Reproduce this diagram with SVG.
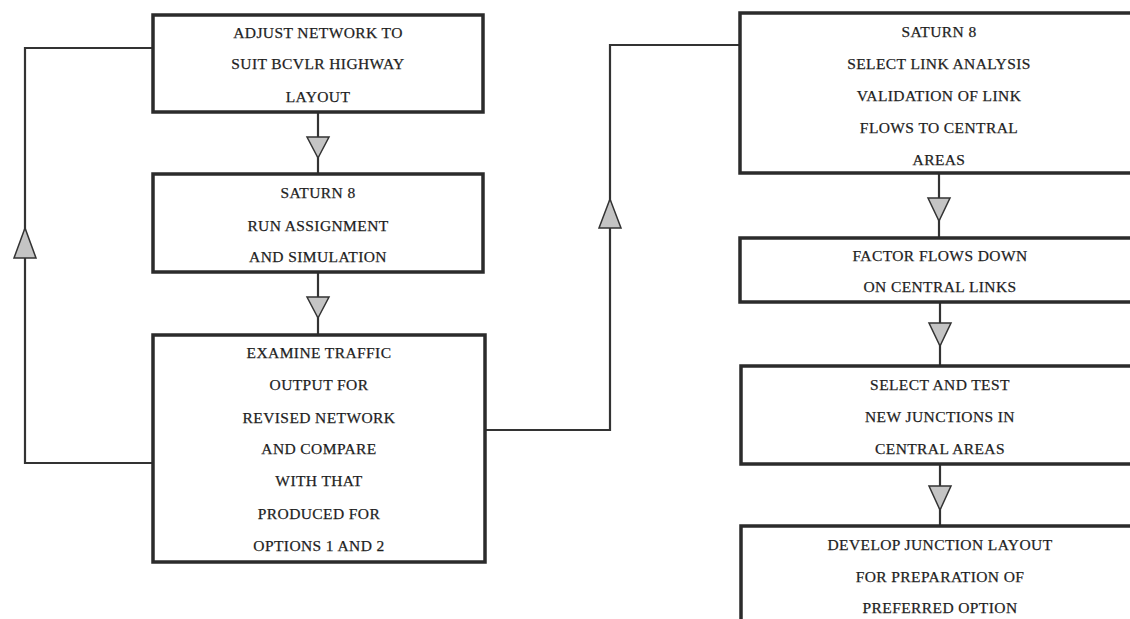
<svg xmlns="http://www.w3.org/2000/svg" width="1130" height="619" viewBox="0 0 1130 619">
<style>
.box{fill:#ffffff;stroke:#2b2b2b;stroke-width:3.5}
.t{font-family:"Liberation Serif","Times New Roman",serif;font-size:15.5px;letter-spacing:0.4px;fill:#1e1e1e;stroke:#1e1e1e;stroke-width:0.25;text-anchor:middle}
.c{fill:none;stroke:#333;stroke-width:2.2}
.ah{fill:#c4c4c4;stroke:#333;stroke-width:1.5;stroke-linejoin:miter}
</style>
<rect width="1130" height="619" fill="#ffffff"/>
<g id="connectors">
  <path class="c" d="M318,112 V174"/>
  <path class="c" d="M318,272 V335"/>
  <path class="c" d="M153,463 H25 V48 H153"/>
  <path class="c" d="M485,430 H610 V45 H740"/>
  <path class="c" d="M939,173 V238"/>
  <path class="c" d="M940,302 V366"/>
  <path class="c" d="M940,464 V526"/>
  <polygon class="ah" points="307,137 329,137 318,158"/>
  <polygon class="ah" points="307,297 329,297 318,318"/>
  <polygon class="ah" points="25,228 14,258 36,258"/>
  <polygon class="ah" points="610,199 599,228 621,228"/>
  <polygon class="ah" points="928,198 950,198 939,221"/>
  <polygon class="ah" points="929,323 951,323 940,346"/>
  <polygon class="ah" points="929,486 951,486 940,510"/>
</g>
<g id="node1">
  <rect class="box" x="153" y="15" width="330" height="97"/>
  <text class="t" x="318" y="38">ADJUST NETWORK TO</text>
  <text class="t" x="318" y="69">SUIT BCVLR HIGHWAY</text>
  <text class="t" x="318" y="102">LAYOUT</text>
</g>
<g id="node2">
  <rect class="box" x="153" y="174" width="330" height="98"/>
  <text class="t" x="318" y="198">SATURN 8</text>
  <text class="t" x="318" y="231">RUN ASSIGNMENT</text>
  <text class="t" x="318" y="262">AND SIMULATION</text>
</g>
<g id="node3">
  <rect class="box" x="153" y="335" width="332" height="227"/>
  <text class="t" x="319" y="358">EXAMINE TRAFFIC</text>
  <text class="t" x="319" y="390">OUTPUT FOR</text>
  <text class="t" x="319" y="423">REVISED NETWORK</text>
  <text class="t" x="319" y="454">AND COMPARE</text>
  <text class="t" x="319" y="486">WITH THAT</text>
  <text class="t" x="319" y="519">PRODUCED FOR</text>
  <text class="t" x="319" y="551">OPTIONS 1 AND 2</text>
</g>
<g id="node4">
  <rect class="box" x="740" y="13" width="400" height="160"/>
  <text class="t" x="939" y="37">SATURN 8</text>
  <text class="t" x="939" y="69">SELECT LINK ANALYSIS</text>
  <text class="t" x="939" y="101">VALIDATION OF LINK</text>
  <text class="t" x="939" y="133">FLOWS TO CENTRAL</text>
  <text class="t" x="939" y="165">AREAS</text>
</g>
<g id="node5">
  <rect class="box" x="740" y="238" width="400" height="64"/>
  <text class="t" x="940" y="261">FACTOR FLOWS DOWN</text>
  <text class="t" x="940" y="292">ON CENTRAL LINKS</text>
</g>
<g id="node6">
  <rect class="box" x="741" y="366" width="400" height="98"/>
  <text class="t" x="940" y="390">SELECT AND TEST</text>
  <text class="t" x="940" y="422">NEW JUNCTIONS IN</text>
  <text class="t" x="940" y="454">CENTRAL AREAS</text>
</g>
<g id="node7">
  <rect class="box" x="741" y="526" width="400" height="110"/>
  <text class="t" x="940" y="550">DEVELOP JUNCTION LAYOUT</text>
  <text class="t" x="940" y="582">FOR PREPARATION OF</text>
  <text class="t" x="940" y="613">PREFERRED OPTION</text>
</g>
</svg>
